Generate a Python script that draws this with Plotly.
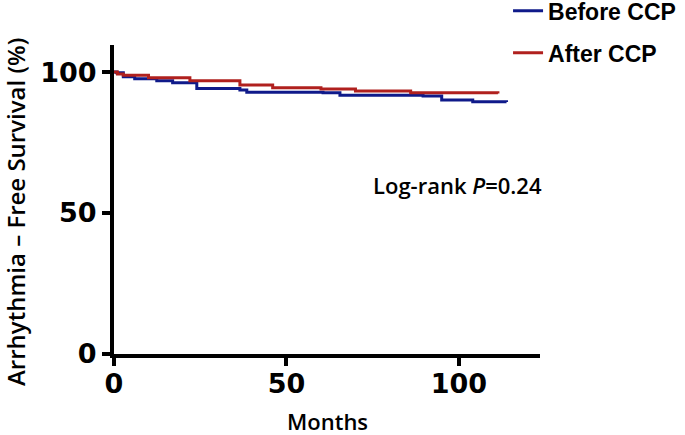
import plotly.graph_objects as go

# Kaplan-Meier step data
before_months = [0, 0.8, 2.7, 6, 12.4, 17, 24, 36.5, 38.5, 60.6, 65.5, 89.6, 95, 104, 113.8]
before_surv   = [100, 99.8, 98.3, 97.6, 96.9, 96.2, 94.2, 93.6, 92.8, 92.7, 91.8, 91.5, 90.1, 89.5, 89.4]

after_months = [0, 1, 2.7, 10, 22, 36.5, 46, 60, 70, 86, 111.3]
after_surv   = [100, 99.3, 98.9, 98.0, 96.9, 95.4, 94.4, 94.0, 93.3, 92.7, 92.4]

x_ticks = [0, 50, 100]
y_ticks = [0, 50, 100]

blue = "#0f1a8a"
red = "#b0201e"

fig = go.Figure()
fig.add_trace(go.Scatter(x=before_months, y=before_surv, mode="lines", line_shape="hv",
                         line=dict(color=blue, width=3), name="Before CCP", legendgroup="a"))
fig.add_trace(go.Scatter(x=after_months, y=after_surv, mode="lines", line_shape="hv",
                         line=dict(color=red, width=3), name="After CCP", legendgroup="b"))

tickfont = dict(family="DejaVu Sans", size=27, color="black", weight="bold")
fig.update_layout(
    width=685, height=435,
    margin=dict(l=114, r=145, t=45, b=81, autoexpand=False),
    paper_bgcolor="white", plot_bgcolor="white",
    showlegend=True,
    legend=dict(x=0.925, y=1.18, xanchor="left", yanchor="top",
                font=dict(family="Liberation Sans", size=23, color="black", weight="bold"),
                tracegroupgap=9, bgcolor="rgba(0,0,0,0)"),
    xaxis=dict(range=[0, 123.5], tickvals=x_ticks, ticks="outside", ticklen=8, tickwidth=4,
               tickcolor="black", showline=True, linewidth=4, linecolor="black",
               showgrid=False, zeroline=False, tickfont=tickfont, ticklabelstandoff=-5),
    yaxis=dict(range=[0, 109.6], tickvals=y_ticks, ticks="outside", ticklen=8, tickwidth=4,
               tickcolor="black", showline=True, linewidth=4, linecolor="black",
               showgrid=False, zeroline=False, tickfont=tickfont),
    annotations=[
        dict(text="Log-rank <i>P</i>=0.24", x=0.6, y=0.56, xref="paper", yref="paper",
             xanchor="center", yanchor="middle", showarrow=False,
             font=dict(family="Open Sans", size=22, color="black", weight=600)),
        dict(text="Months", x=327, y=12, xref="paper", yref="paper", showarrow=False,
             font=dict(family="Open Sans", size=22, color="black", weight=600)),
        dict(text="Arrhythmia – Free Survival (%)", textangle=-90, showarrow=False,
             xref="paper", yref="paper", x=0, y=0.5,
             font=dict(family="Open Sans", size=24, color="black", weight=600)),
    ],
)
# position axis-title annotations in pixel terms via paper coords
pw = 685 - 114 - 145
ph = 435 - 45 - 81
fig.layout.annotations[1].update(x=(327 - 114) / pw, y=(354 - 421) / ph, yanchor="middle", xanchor="center")
fig.layout.annotations[2].update(x=(15 - 114) / pw, y=(354 - 212) / ph, xanchor="center", yanchor="middle")
fig.layout.annotations[0].update(x=(457 - 114) / pw, y=(354 - 185) / ph)

fig.write_html("out.html", config={"displayModeBar": False},
               post_script="document.body.style.margin='0';")
